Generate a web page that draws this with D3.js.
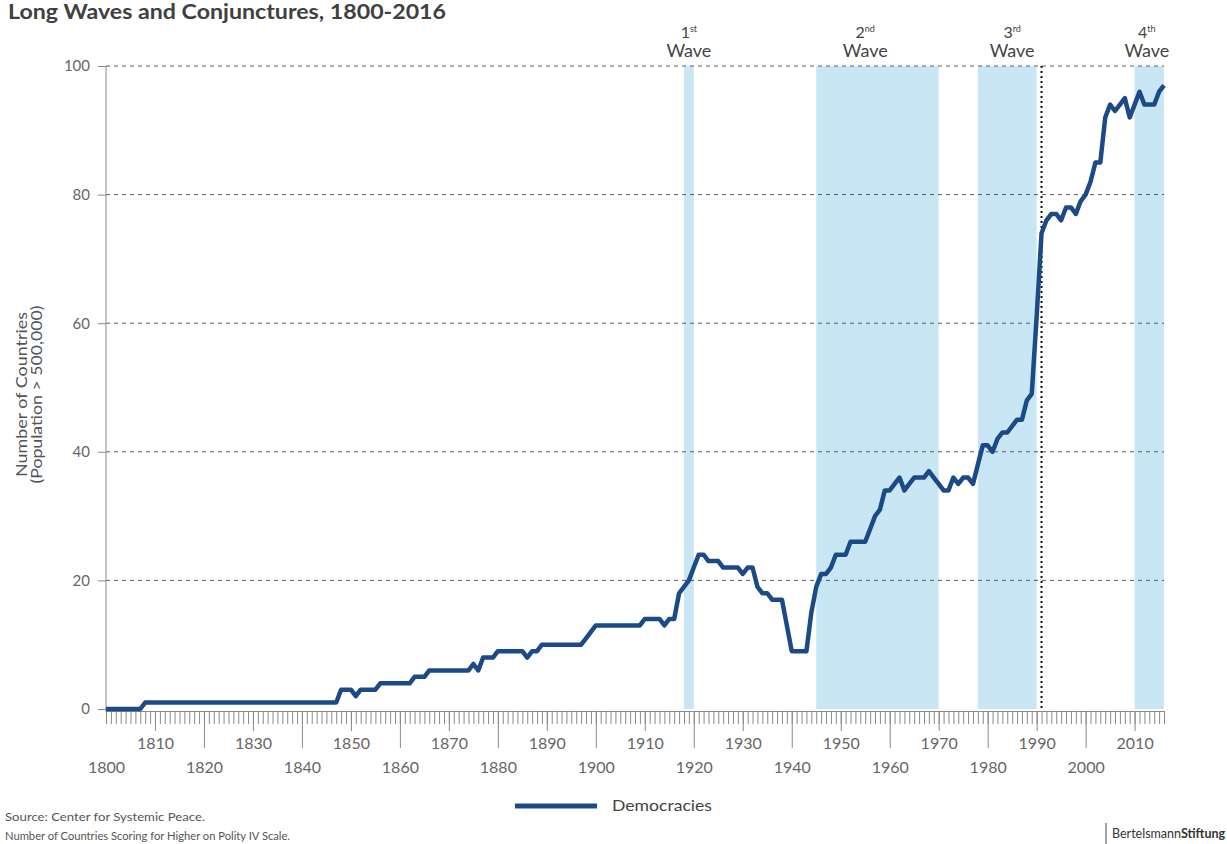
<!DOCTYPE html>
<html>
  <head>
    <title>Long Waves and Conjunctures, 1800-2016</title>
    <script src="https://d3js.org/d3.v7.min.js" charset="utf-8"></script>
    <style>
      body {
        margin: 0;
        background: #fff;
      }
      svg text {
        font-family: Lato, "Open Sans", sans-serif;
      }
      .axis path,
      .axis line {
        stroke: #8a8a8a;
      }
      .axis text {
        fill: #666;
        font-size: 15px;
      }
      .xaxis text {
        font-size: 16px;
      }
    </style>
  </head>
  <body>
    <svg></svg>

    <script>
      // data: democracies per year, 1800..2016
      const startYear = 1800;
      const democracies = [
        0, 0, 0, 0, 0, 0, 0, 0, 1, 1, // 1800
        1, 1, 1, 1, 1, 1, 1, 1, 1, 1, // 1810
        1, 1, 1, 1, 1, 1, 1, 1, 1, 1, // 1820
        1, 1, 1, 1, 1, 1, 1, 1, 1, 1, // 1830
        1, 1, 1, 1, 1, 1, 1, 1, 3, 3, // 1840
        3, 2, 3, 3, 3, 3, 4, 4, 4, 4, // 1850
        4, 4, 4, 5, 5, 5, 6, 6, 6, 6, // 1860
        6, 6, 6, 6, 6, 7, 6, 8, 8, 8, // 1870
        9, 9, 9, 9, 9, 9, 8, 9, 9, 10, // 1880
        10, 10, 10, 10, 10, 10, 10, 10, 11, 12, // 1890
        13, 13, 13, 13, 13, 13, 13, 13, 13, 13, // 1900
        14, 14, 14, 14, 13, 14, 14, 18, 19, 20, // 1910
        22, 24, 24, 23, 23, 23, 22, 22, 22, 22, // 1920
        21, 22, 22, 19, 18, 18, 17, 17, 17, 13, // 1930
        9, 9, 9, 9, 15, 19, 21, 21, 22, 24, // 1940
        24, 24, 26, 26, 26, 26, 28, 30, 31, 34, // 1950
        34, 35, 36, 34, 35, 36, 36, 36, 37, 36, // 1960
        35, 34, 34, 36, 35, 36, 36, 35, 38, 41, // 1970
        41, 40, 42, 43, 43, 44, 45, 45, 48, 49, // 1980
        61, 74, 76, 77, 77, 76, 78, 78, 77, 79, // 1990
        80, 82, 85, 85, 92, 94, 93, 94, 95, 92, // 2000
        94, 96, 94, 94, 94, 96, 97              // 2010
      ];
      const years = democracies.map((d, i) => startYear + i);

      const yTicks = [0, 20, 40, 60, 80, 100];
      const oddDecades = [1810, 1830, 1850, 1870, 1890, 1910, 1930, 1950, 1970, 1990, 2010];
      const evenDecades = [1800, 1820, 1840, 1860, 1880, 1900, 1920, 1940, 1960, 1980, 2000];

      const waveStart = [1918, 1945, 1978, 2010];
      const waveEnd = [1920, 1970, 1990, 2016];
      const waveNum = ["1", "2", "3", "4"];
      const waveSup = ["st", "nd", "rd", "th"];
      const waveLabelYear = [1919, 1955, 1985, 2012.5];
      const coldWarYear = 1991;

      const W = 1227;
      const H = 844;
      const svg = d3.select("svg").attr("width", W).attr("height", H);

      const x = d3.scaleLinear().domain([1800, 2016]).range([106, 1164]);
      const y = d3.scaleLinear().domain([0, 100]).range([709, 66]);

      // title (the source picture is a bit wider than Lato, so stretch it)
      svg
        .append("text")
        .attr("x", 8)
        .attr("y", 19)
        .attr("font-size", 20)
        .attr("font-weight", "bold")
        .attr("fill", "#404040")
        .attr("textLength", 438)
        .attr("lengthAdjust", "spacingAndGlyphs")
        .text("Long Waves and Conjunctures, 1800-2016");

      // wave bands
      svg
        .append("g")
        .selectAll("rect")
        .data(waveStart)
        .join("rect")
        .attr("x", (d) => x(d))
        .attr("y", y(100))
        .attr("width", (d, i) => x(waveEnd[i]) - x(d))
        .attr("height", y(0) - y(100))
        .attr("fill", "#c8e6f3");

      // wave labels
      const waveLabels = svg
        .append("g")
        .selectAll("g")
        .data(waveNum)
        .join("g")
        .attr("transform", (d, i) => `translate(${x(waveLabelYear[i])},0)`);
      const numText = waveLabels
        .append("text")
        .attr("y", 38)
        .attr("text-anchor", "middle")
        .attr("font-size", 16)
        .attr("fill", "#444");
      numText.append("tspan").text((d) => d);
      numText
        .append("tspan")
        .attr("font-size", 9)
        .attr("dy", -6)
        .text((d, i) => waveSup[i]);
      waveLabels
        .append("text")
        .attr("y", 57)
        .attr("text-anchor", "middle")
        .attr("font-size", 18)
        .attr("fill", "#444")
        .text("Wave");

      // grid
      svg
        .append("g")
        .selectAll("line")
        .data(yTicks.filter((d) => d > 0))
        .join("line")
        .attr("x1", x(1800))
        .attr("x2", x(2016))
        .attr("y1", (d) => y(d))
        .attr("y2", (d) => y(d))
        .attr("stroke", "#5c5c5c")
        .attr("stroke-width", 1)
        .attr("stroke-dasharray", "4,4");

      // y axis
      const yAxis = svg
        .append("g")
        .attr("class", "axis")
        .attr("transform", `translate(${x(1800)},0)`)
        .call(
          d3.axisLeft(y).tickValues(yTicks).tickSize(8).tickPadding(8).tickSizeOuter(0)
        );
      yAxis.select(".domain").attr("d", `M0,${y(100)}V${y(0) + 3}`);

      const yLabelLines = ["Number of Countries", "(Population > 500,000)"];
      const yLabelWidths = [165, 178];
      svg
        .append("text")
        .attr("transform", `translate(27,${(y(0) + y(100)) / 2 + 7}) rotate(-90)`)
        .attr("text-anchor", "middle")
        .attr("font-size", 15)
        .attr("fill", "#555")
        .selectAll("tspan")
        .data(yLabelLines)
        .join("tspan")
        .attr("x", 0)
        .attr("dy", (d, i) => (i ? 15 : 0))
        .attr("textLength", (d, i) => yLabelWidths[i])
        .attr("lengthAdjust", "spacingAndGlyphs")
        .text((d) => d);

      // x axis: yearly ticks, then decade ticks in two rows
      const axisY = y(0) + 2;
      svg
        .append("g")
        .attr("class", "axis")
        .attr("transform", `translate(0,${axisY})`)
        .call(d3.axisBottom(x).tickValues(years).tickSize(13).tickFormat("").tickSizeOuter(0));

      svg
        .append("g")
        .attr("class", "axis xaxis")
        .attr("transform", `translate(0,${axisY})`)
        .call(
          d3.axisBottom(x).tickValues(oddDecades).tickSize(20).tickPadding(7)
            .tickFormat(d3.format("d"))
        )
        .call((g) => g.select(".domain").remove());

      const evenAxis = svg
        .append("g")
        .attr("class", "axis xaxis")
        .attr("transform", `translate(0,${axisY})`)
        .call(
          d3.axisBottom(x).tickValues(evenDecades).tickSize(37).tickPadding(14)
            .tickFormat(d3.format("d"))
        )
        .call((g) => g.select(".domain").remove());
      evenAxis.selectAll(".tick line").filter((d) => d === 1800).remove();

      // cold war marker
      svg
        .append("line")
        .attr("x1", x(coldWarYear))
        .attr("x2", x(coldWarYear))
        .attr("y1", y(100))
        .attr("y2", y(0))
        .attr("stroke", "#111")
        .attr("stroke-width", 2)
        .attr("stroke-dasharray", "2,3");

      // democracies line
      const line = d3
        .line()
        .x((d, i) => x(years[i]))
        .y((d) => y(d));

      svg
        .append("path")
        .datum(democracies)
        .attr("fill", "none")
        .attr("stroke", "#1c4a86")
        .attr("stroke-width", 4.5)
        .attr("stroke-linejoin", "round")
        .attr("d", line);

      // legend
      const legend = svg.append("g").attr("transform", "translate(515,806)");
      legend
        .append("line")
        .attr("x1", 0)
        .attr("x2", 82)
        .attr("stroke", "#1c4a86")
        .attr("stroke-width", 5);
      legend
        .append("text")
        .attr("x", 97)
        .attr("y", 5)
        .attr("font-size", 16)
        .attr("fill", "#444")
        .attr("textLength", 100)
        .attr("lengthAdjust", "spacingAndGlyphs")
        .text("Democracies");

      // footer
      const footLines = [
        "Source: Center for Systemic Peace.",
        "Number of Countries Scoring for Higher on Polity IV Scale.",
      ];
      const footWidths = [200, 285];
      svg
        .append("g")
        .attr("font-size", 12)
        .attr("fill", "#555")
        .selectAll("text")
        .data(footLines)
        .join("text")
        .attr("x", 5)
        .attr("y", (d, i) => 821 + i * 19)
        .attr("textLength", (d, i) => footWidths[i])
        .attr("lengthAdjust", "spacingAndGlyphs")
        .text((d) => d);

      // brand mark
      svg
        .append("line")
        .attr("x1", 1106)
        .attr("x2", 1106)
        .attr("y1", 823)
        .attr("y2", 844)
        .attr("stroke", "#444")
        .attr("stroke-width", 1);
      const brand = svg
        .append("text")
        .attr("x", 1112)
        .attr("y", 838)
        .attr("font-size", 12.5)
        .attr("fill", "#333");
      brand.append("tspan").text("Bertelsmann");
      brand.append("tspan").attr("font-weight", "bold").text("Stiftung");
    </script>
  </body>
</html>
